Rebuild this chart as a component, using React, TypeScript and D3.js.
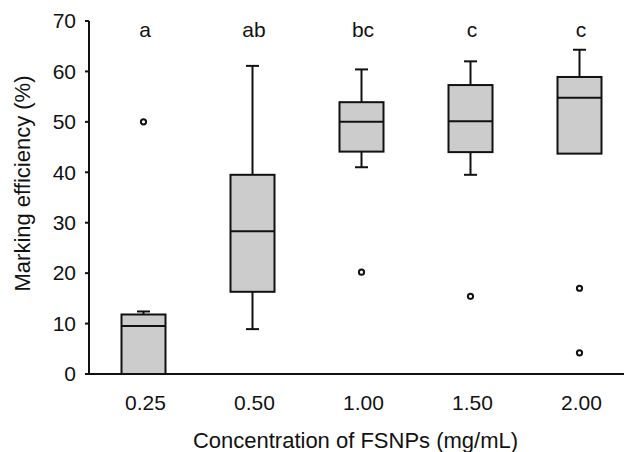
import React from "react";
import * as d3 from "d3";

const categories = ["0.25", "0.50", "1.00", "1.50", "2.00"];
const whiskerLow = [0, 8.9, 41.0, 39.5, 43.7];
const q1 = [0, 16.3, 44.1, 44.0, 43.7];
const median = [9.5, 28.3, 50.0, 50.1, 54.8];
const q3 = [11.8, 39.5, 53.9, 57.3, 58.9];
const whiskerHigh = [12.4, 61.1, 60.4, 62.0, 64.3];
const outliers: number[][] = [[50], [], [20.2], [15.4], [17.0, 4.2]];
const letters = ["a", "ab", "bc", "c", "c"];
const yTicks = [0, 10, 20, 30, 40, 50, 60, 70];

const W = 624;
const H = 452;
const FONT = "'Liberation Sans', Arial, Helvetica, sans-serif";
const INK = "#111";

export default function App() {
  const x = d3.scaleBand<string>().domain(categories).range([89, 634]).padding(0);
  const y = d3.scaleLinear().domain([0, 70]).range([374, 21]);
  const boxW = 44;
  const capW = 13;

  return (
    <svg width={W} height={H} style={{ position: "absolute", left: 0, top: 0, background: "#fff" }}>
      {categories.map((c, i) => {
        const cx = (x(c) as number) + x.bandwidth() / 2;
        return (
          <g key={c}>
            {whiskerHigh[i] > q3[i] && (
              <g stroke={INK} strokeWidth={2}>
                <line x1={cx} x2={cx} y1={y(q3[i])} y2={y(whiskerHigh[i])} />
                <line x1={cx - capW / 2} x2={cx + capW / 2} y1={y(whiskerHigh[i])} y2={y(whiskerHigh[i])} />
              </g>
            )}
            {whiskerLow[i] < q1[i] && (
              <g stroke={INK} strokeWidth={2}>
                <line x1={cx} x2={cx} y1={y(q1[i])} y2={y(whiskerLow[i])} />
                <line x1={cx - capW / 2} x2={cx + capW / 2} y1={y(whiskerLow[i])} y2={y(whiskerLow[i])} />
              </g>
            )}
            <rect
              x={cx - boxW / 2}
              y={y(q3[i])}
              width={boxW}
              height={y(q1[i]) - y(q3[i])}
              fill="#cccccc"
              stroke={INK}
              strokeWidth={2}
            />
            <line x1={cx - boxW / 2} x2={cx + boxW / 2} y1={y(median[i])} y2={y(median[i])} stroke={INK} strokeWidth={2} />
            {outliers[i].map((v, j) => (
              <circle key={j} cx={cx} cy={y(v)} r={2.6} fill="#fff" stroke={INK} strokeWidth={2} />
            ))}
            <text x={cx + 1.5} y={36.5} textAnchor="middle" fontFamily={FONT} fontSize={21} fill={INK}>
              {letters[i]}
            </text>
            <text x={cx + 2} y={410} textAnchor="middle" fontFamily={FONT} fontSize={21} fill={INK}>
              {c}
            </text>
          </g>
        );
      })}
      <line x1={89} x2={624} y1={y(0)} y2={y(0)} stroke={INK} strokeWidth={2} />
      <line x1={89} x2={89} y1={y(0) + 1} y2={y(70)} stroke={INK} strokeWidth={2} />
      {yTicks.map((t) => (
        <g key={t}>
          <line x1={85} x2={89} y1={y(t)} y2={y(t)} stroke={INK} strokeWidth={2} />
          <text x={76} y={y(t)} dy="0.35em" textAnchor="end" fontFamily={FONT} fontSize={21} fill={INK}>
            {t}
          </text>
        </g>
      ))}
      <text
        transform={`translate(29.5,183.5) rotate(-90)`}
        textAnchor="middle"
        fontFamily={FONT}
        fontSize={22}
        fill={INK}
      >
        Marking efficiency (%)
      </text>
      <text x={355.5} y={448} textAnchor="middle" fontFamily={FONT} fontSize={22} fill={INK}>
        Concentration of FSNPs (mg/mL)
      </text>
    </svg>
  );
}
